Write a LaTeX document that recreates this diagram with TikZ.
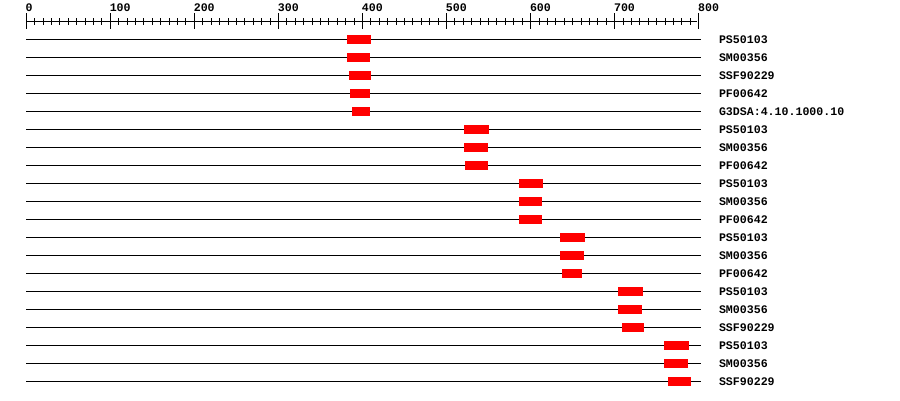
\documentclass[tikz,border=0pt]{standalone}
\usepackage{fontspec}
\newfontfamily\lblfont{Liberation Mono}
\tikzset{
  lbl/.style={anchor=west, inner sep=0pt, font=\lblfont\bfseries\fontsize{11.6}{12}\selectfont},
  seqline/.style={line width=1pt, black},
  tickline/.style={line width=1pt, black},
  hit/.style={fill=red, draw=none},
}
\begin{document}
\begin{tikzpicture}[x=1pt, y=-1pt]
\useasboundingbox (0,0) rectangle (900,400);
% axis
\draw[tickline] (26.3,21.5) -- (696.7,21.5);
\foreach \k in {0,...,80}{
  \pgfmathsetmacro{\xx}{26.3+8.405*\k}
  \draw[tickline] (\xx,18.3) -- (\xx,24.7);
}
\foreach \m in {0,...,8}{
  \pgfmathsetmacro{\xx}{26.3+84.05*\m}
  \pgfmathtruncatemacro{\vv}{100*\m}
  \draw[tickline] (\xx,13.3) -- (\xx,28.7);
  \node[lbl] (ax\m) at (\xx-0.8,7.8) {\vv};
}
% rows
\foreach \i/\a/\b/\t in {
 0/347/371/PS50103,
 1/347/370/SM00356,
 2/349/371/SSF90229,
 3/350/370/PF00642,
 4/352/370/G3DSA:4.10.1000.10,
 5/464/489/PS50103,
 6/464/488/SM00356,
 7/465/488/PF00642,
 8/519/543/PS50103,
 9/519/542/SM00356,
 10/519/542/PF00642,
 11/560/585/PS50103,
 12/560/584/SM00356,
 13/562/582/PF00642,
 14/618/643/PS50103,
 15/618/642/SM00356,
 16/622/644/SSF90229,
 17/664/689/PS50103,
 18/664/688/SM00356,
 19/668/691/SSF90229}{
  \pgfmathsetmacro{\yy}{39.5+18*\i}
  \coordinate (s\i) at (26,\yy);
  \coordinate (e\i) at (701,\yy);
  \draw[seqline] (s\i) -- (e\i);
  \fill[hit] (\a,\yy-4.5) rectangle (\b,\yy+4.5);
  \node[lbl] (l\i) at (718.8,\yy) {\t};
}
\end{tikzpicture}
\end{document}
